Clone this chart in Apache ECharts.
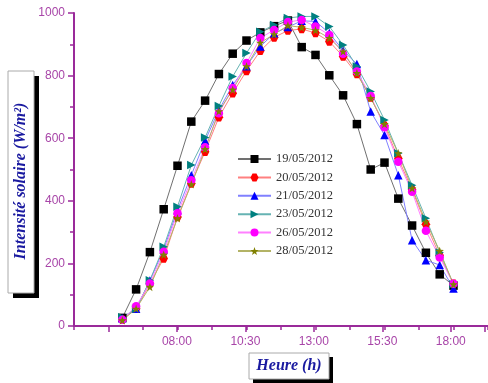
<!DOCTYPE html>
<html>
<head>
<meta charset="utf-8">
<script src="https://cdn.jsdelivr.net/npm/echarts@6/dist/echarts.min.js"></script>
<style>html,body{margin:0;padding:0;background:#fff}#c{width:488px;height:383px}</style>
</head>
<body>
<div id="c"></div>
<script>
// Time of measurement, hours (06:00 .. 18:00 every 30 min)
const hours = [6, 6.5, 7, 7.5, 8, 8.5, 9, 9.5, 10, 10.5, 11, 11.5, 12, 12.5, 13, 13.5, 14, 14.5, 15, 15.5, 16, 16.5, 17, 17.5, 18];
const seriesNames = ['19/05/2012', '20/05/2012', '21/05/2012', '23/05/2012', '26/05/2012', '28/05/2012'];
const d19 = [26, 117, 236, 373, 512, 653, 720, 805, 870, 912, 938, 958, 976, 891, 866, 801, 737, 645, 500, 522, 407, 321, 234, 165, 129];
const d20 = [20, 55, 135, 216, 348, 455, 557, 667, 744, 815, 879, 922, 944, 949, 936, 909, 861, 805, 730, 640, 535, 435, 325, 225, 135];
const d21 = [25, 55, 145, 245, 370, 482, 592, 690, 770, 830, 893, 935, 955, 975, 973, 936, 880, 837, 685, 610, 482, 274, 210, 195, 120];
const d23 = [28, 55, 146, 253, 381, 514, 602, 703, 797, 872, 940, 962, 984, 989, 989, 957, 898, 829, 749, 658, 552, 450, 344, 235, 133];
const d26 = [20, 63, 136, 237, 360, 466, 571, 680, 760, 840, 920, 946, 971, 978, 957, 930, 870, 813, 735, 635, 525, 429, 304, 219, 135];
const d28 = [18, 55, 125, 228, 344, 453, 565, 686, 755, 830, 905, 932, 960, 954, 945, 920, 877, 808, 728, 645, 552, 440, 333, 240, 133];
const yTicks = [0, 200, 400, 600, 800, 1000];
const xTickLabels = ['08:00', '10:30', '13:00', '15:30', '18:00'];

const allData = [d19, d20, d21, d23, d26, d28];
const markColors = ['#000000', '#ff0000', '#0000ff', '#008080', '#ff00ff', '#808000'];
const lineColors = ['#707070', '#ff8080', '#8080ff', '#66b3b3', '#ff80ff', '#b3b366'];
const symbols = [
  'rect',
  'path://M-5,-8.66 L5,-8.66 10,0 5,8.66 -5,8.66 -10,0Z',
  'triangle',
  'path://M0,0 L10,5 0,10Z',
  'circle',
  'path://M0,-10 L2.35,-3.24 9.51,-3.09 3.8,1.24 5.88,8.09 0,4 -5.88,8.09 -3.8,1.24 -9.51,-3.09 -2.35,-3.24Z'
];
const purple = '#9a2a9a';
const labelPurple = '#a845a8';

const chart = echarts.init(document.getElementById('c'), null, {renderer: 'canvas'});
const series = allData.map((vals, i) => ({
  name: seriesNames[i],
  type: 'line',
  xAxisIndex: 0,
  yAxisIndex: 0,
  data: hours.map((h, k) => [h, vals[k]]),
  symbol: symbols[i],
  symbolSize: 8.5,
  showAllSymbol: true,
  lineStyle: {width: 1, color: lineColors[i]},
  itemStyle: {color: markColors[i]},
  emphasis: {disabled: true}
}));

function hhmm(h) {
  const hh = Math.floor(h + 1e-9);
  const mm = Math.round((h - hh) * 60);
  return String(hh).padStart(2, '0') + ':' + String(mm).padStart(2, '0');
}

chart.setOption({
  animation: false,
  backgroundColor: '#fff',
  grid: [
    {left: 74, right: 0, top: 13, bottom: 57},
    {left: 108.5, right: 0, top: 13, bottom: 57}
  ],
  xAxis: [
    {gridIndex: 0, type: 'value', position: 'bottom', min: 4.25, max: 19.25,
     axisLine: {show: true, onZero: false, lineStyle: {color: purple, width: 2}},
     axisTick: {show: false}, axisLabel: {show: false}, splitLine: {show: false}},
    {gridIndex: 0, type: 'value', position: 'bottom', offset: 0, min: 0, max: 15, interval: 1.25,
     axisLine: {show: false, onZero: false},
     axisTick: {show: true, length: 4, lineStyle: {color: purple, width: 1.5}},
     axisLabel: {show: false}, splitLine: {show: false}},
    {gridIndex: 1, type: 'value', position: 'bottom', min: 0, max: 13.75, interval: 2.5,
     axisLine: {show: false, onZero: false},
     axisTick: {show: true, length: 6, lineStyle: {color: purple, width: 1.5}},
     axisLabel: {show: true, margin: 10, color: labelPurple, fontFamily: 'Liberation Sans', fontSize: 12,
       formatter: v => { const s = hhmm(v + 5.5); return xTickLabels.indexOf(s) >= 0 ? s : ''; }},
     splitLine: {show: false}}
  ],
  yAxis: [
    {gridIndex: 0, type: 'value', min: 0, max: 1000, interval: 200,
     axisLine: {show: true, lineStyle: {color: purple, width: 2}},
     axisTick: {show: true, length: 6, lineStyle: {color: purple, width: 1.5}},
     minorTick: {show: true, splitNumber: 2, length: 4, lineStyle: {color: purple, width: 1.5}},
     axisLabel: {margin: 9, color: labelPurple, fontFamily: 'Liberation Sans', fontSize: 12,
       formatter: v => yTicks.indexOf(v) >= 0 ? String(v) : ''},
     splitLine: {show: false}},
    {gridIndex: 1, type: 'value', min: 0, max: 1000, show: false}
  ],
  legend: {
    data: seriesNames,
    orient: 'vertical',
    left: 237,
    top: 152.5,
    itemWidth: 33,
    itemHeight: 10,
    itemGap: 5.4,
    padding: 0,
    textStyle: {fontFamily: 'Liberation Serif', fontSize: 12.5, color: '#333'}
  },
  graphic: [
    {type: 'rect', shape: {x: 13, y: 76, width: 26, height: 222}, style: {fill: '#000'}},
    {type: 'rect', shape: {x: 8, y: 71, width: 26, height: 222}, style: {fill: '#fff', stroke: '#aaa', lineWidth: 1}},
    {type: 'text', x: 21, y: 181, rotation: Math.PI / 2,
     style: {text: 'Intensité solaire (W/m²)', font: 'italic bold 16px "Liberation Serif"', fill: '#1a1aa0', textAlign: 'center', textVerticalAlign: 'middle'}},
    {type: 'rect', shape: {x: 253, y: 357, width: 80, height: 30}, style: {fill: '#000'}},
    {type: 'rect', shape: {x: 249, y: 353, width: 80, height: 26}, style: {fill: '#fff', stroke: '#aaa', lineWidth: 1}},
    {type: 'text', x: 289, y: 366,
     style: {text: 'Heure (h)', font: 'italic bold 16px "Liberation Serif"', fill: '#1a1aa0', textAlign: 'center', textVerticalAlign: 'middle'}}
  ],
  series: series
});
</script>
</body>
</html>
